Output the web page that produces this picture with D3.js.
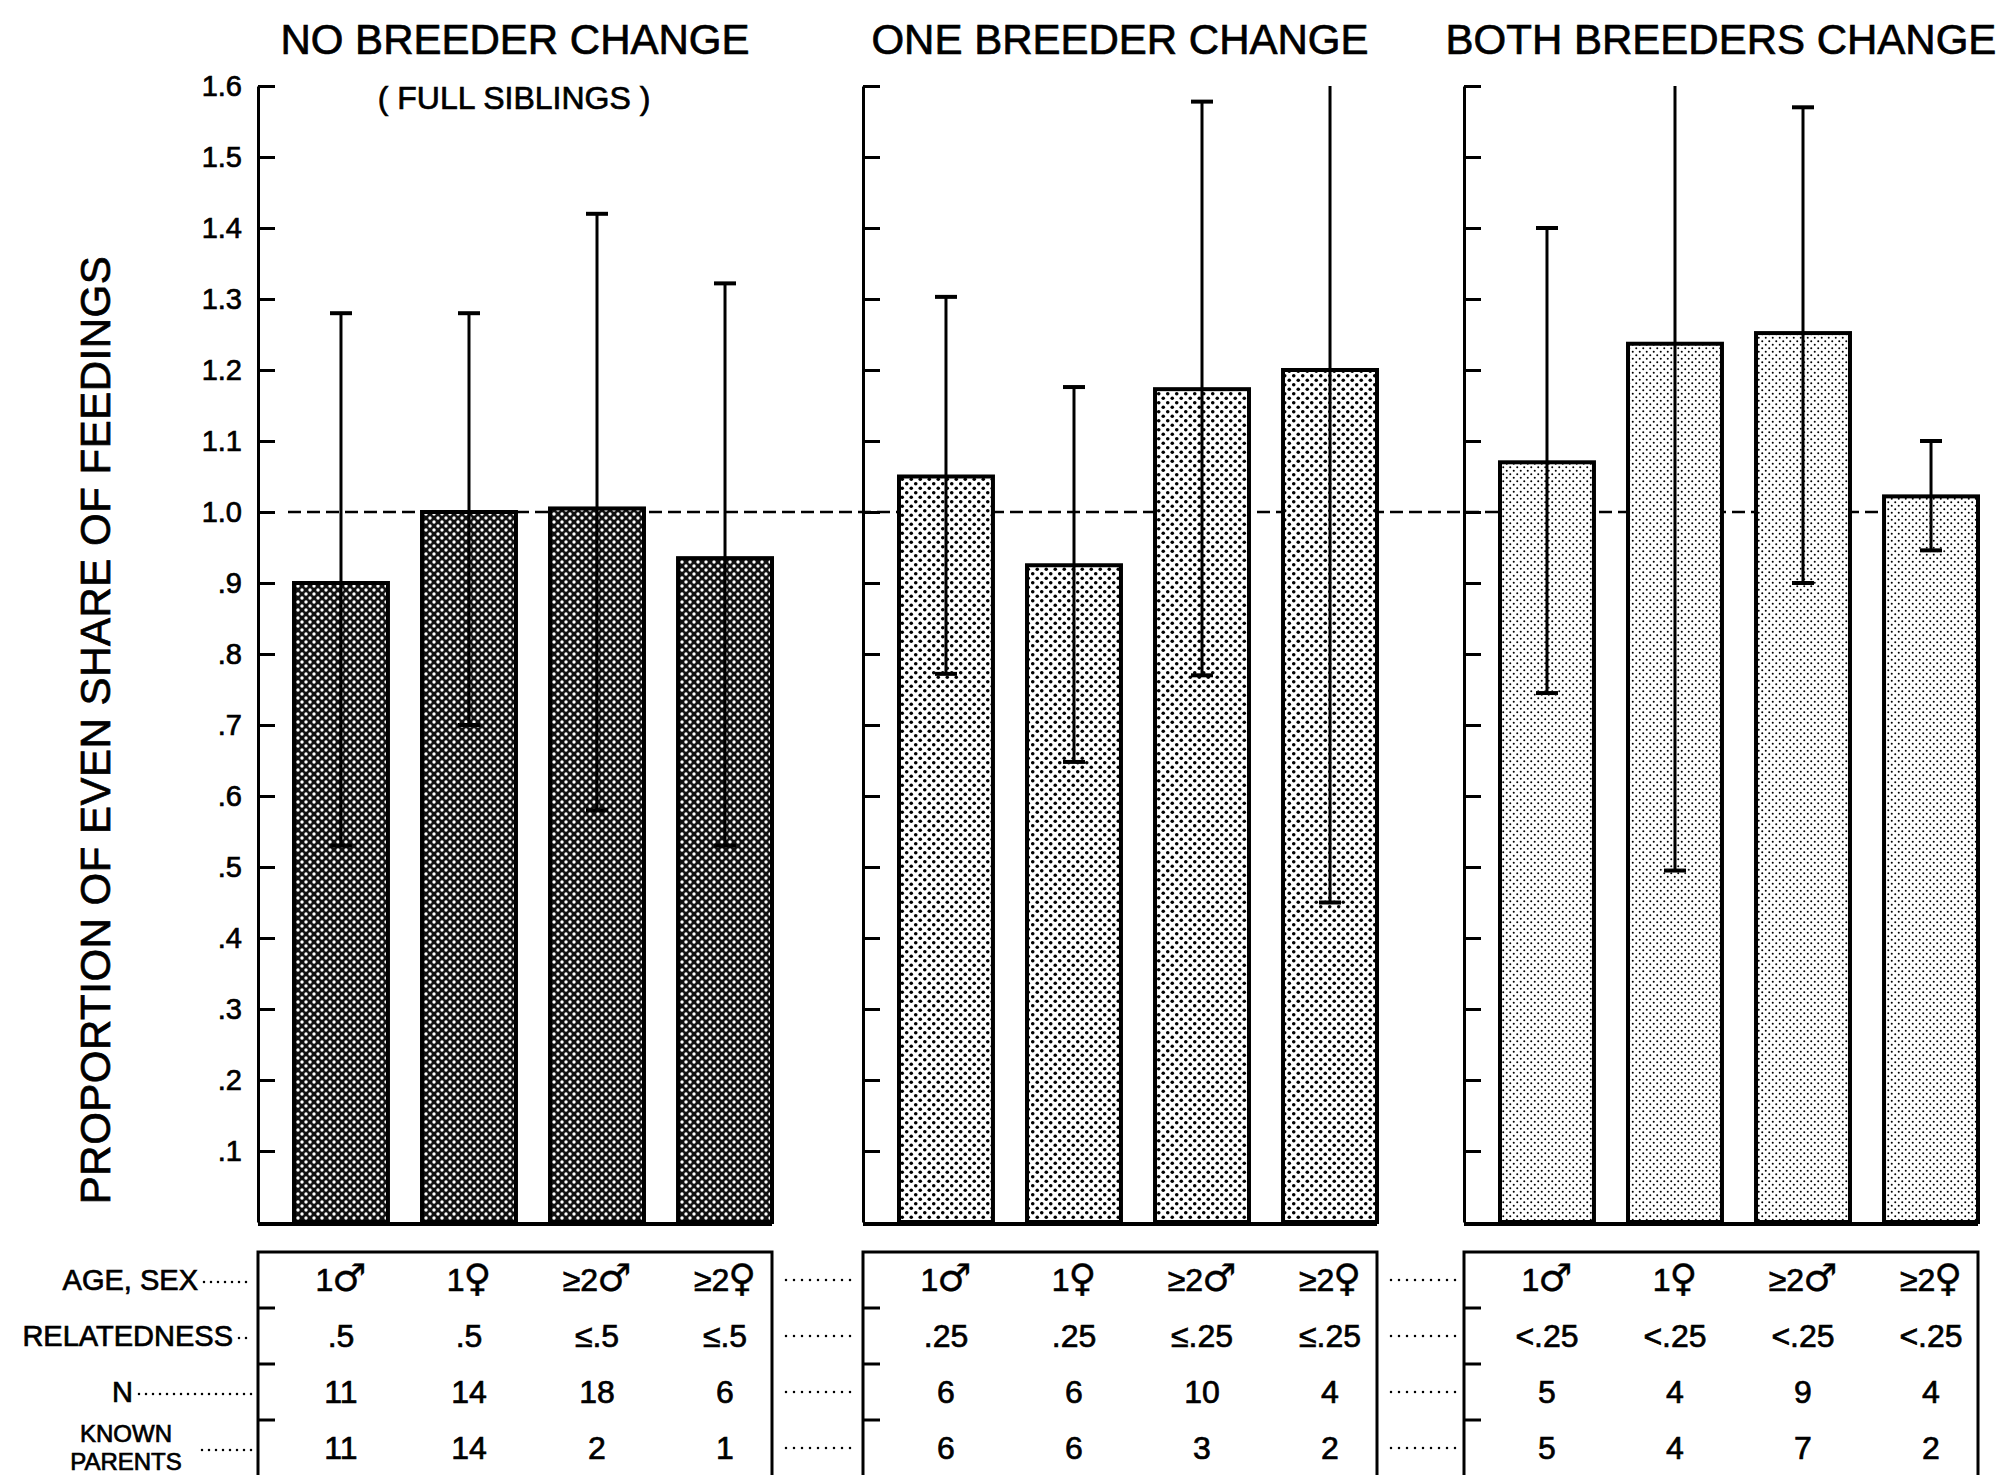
<!DOCTYPE html>
<html>
<head>
<meta charset="utf-8">
<script src="https://cdn.jsdelivr.net/npm/d3@7"></script>
<style>
  body { margin: 0; background: #fff; }
  text { font-family: "Liberation Sans", Arial, sans-serif; fill: #000; stroke: #000; stroke-width: 0.7px; }
  tspan.sym { font-family: "DejaVu Sans", sans-serif; stroke-width: 0.4px; }
</style>
</head>
<body>
<svg id="chart"></svg>
<script>
// DATA
const panelTitles = ["NO BREEDER CHANGE", "ONE BREEDER CHANGE", "BOTH BREEDERS CHANGE"];
const ageSex = ["1\u2642", "1\u2640", "\u22652\u2642", "\u22652\u2640"];
const yTicks = [0.1, 0.2, 0.3, 0.4, 0.5, 0.6, 0.7, 0.8, 0.9, 1.0, 1.1, 1.2, 1.3, 1.4, 1.5, 1.6];
const yTickLabels = [".1", ".2", ".3", ".4", ".5", ".6", ".7", ".8", ".9", "1.0", "1.1", "1.2", "1.3", "1.4", "1.5", "1.6"];

// mean proportion of even share, per panel
const means = [
    [0.90, 1.00, 1.005, 0.935],
    [1.05, 0.925, 1.173, 1.20],
    [1.07, 1.237, 1.252, 1.022]
];
// error bar ends (upper values above 1.6 run off the top of the scale)
const upper = [
    [1.28, 1.28, 1.42, 1.322],
    [1.303, 1.176, 1.578, 1.65],
    [1.40, 1.65, 1.57, 1.10]
];
const lower = [
    [0.53, 0.70, 0.58, 0.53],
    [0.772, 0.648, 0.77, 0.45],
    [0.745, 0.495, 0.90, 0.946]
];

const rowLabels = ["AGE, SEX", "RELATEDNESS", "N", "KNOWN PARENTS"];
const relatedness = [
    [".5", ".5", "\u2264.5", "\u2264.5"],
    [".25", ".25", "\u2264.25", "\u2264.25"],
    ["<.25", "<.25", "<.25", "<.25"]
];
const nValues = [
    [11, 14, 18, 6],
    [6, 6, 10, 4],
    [5, 4, 9, 4]
];
const knownParents = [
    [11, 14, 2, 1],
    [6, 6, 3, 2],
    [5, 4, 7, 2]
];

//svg setup
const width = 2001;
const height = 1475;
const svg = d3.select('#chart').attr('width', width).attr('height', height);

//fill patterns, dark to light
const defs = svg.append('defs');
function dotPattern(id, size, r, bg, dot) {
    const p = defs.append('pattern').attr('id', id)
        .attr('patternUnits', 'userSpaceOnUse')
        .attr('width', size).attr('height', size);
    p.append('rect').attr('width', size).attr('height', size).attr('fill', bg);
    [[size / 4, size / 4], [size * 3 / 4, size * 3 / 4]].forEach(c => {
        p.append('circle').attr('cx', c[0]).attr('cy', c[1]).attr('r', r).attr('fill', dot);
    });
}
dotPattern('pat0', 8, 1.7, '#111', '#fff');
dotPattern('pat1', 9, 1.8, '#fff', '#000');
dotPattern('pat2', 7, 1.0, '#fff', '#000');

//scales
const panelX = [258, 863, 1464];
const y = d3.scaleLinear().domain([0, 1.6]).range([1222, 86]);

//y axis title
svg.append('text')
    .attr('transform', `translate(110, 730) rotate(-90)`)
    .attr('text-anchor', 'middle')
    .attr('font-size', 42)
    .attr('letter-spacing', 0.5)
    .attr('stroke-width', 0.4)
    .text('PROPORTION OF EVEN SHARE OF FEEDINGS');

//tick labels only on the first panel
svg.append('g').selectAll('text')
    .data(yTicks)
    .enter()
    .append('text')
    .attr('x', 242)
    .attr('y', d => y(d) + 10)
    .attr('text-anchor', 'end')
    .attr('font-size', 29)
    .text((d, i) => yTickLabels[i]);

//dashed reference line at 1.0, behind the bars
svg.append('line')
    .attr('x1', 288).attr('x2', 1979)
    .attr('y1', y(1)).attr('y2', y(1))
    .attr('stroke', '#000').attr('stroke-width', 2.5)
    .attr('stroke-dasharray', '13,6');

// row layout of the table under the chart
const rowScale = d3.scaleBand().domain(d3.range(4)).range([1252, 1476]);
const rowMid = i => rowScale(i) + rowScale.bandwidth() / 2;

//write a cell, with the sex sign set larger
function cellText(sel, d) {
    const s = String(d);
    const last = s.slice(-1);
    if (last === '\u2642' || last === '\u2640') {
        sel.append('tspan').text(s.slice(0, -1));
        sel.append('tspan').attr('class', 'sym')
            .attr('font-size', 38).attr('dx', -1).text(last);
    } else {
        sel.text(s);
    }
}

panelX.forEach((x0, p) => {
    const x = d3.scaleBand().domain(ageSex)
        .range([x0 + 36, x0 + 514])
        .paddingInner(0.266).paddingOuter(0);
    const right = x0 + 514;
    const g = svg.append('g');

    //title
    g.append('text')
        .attr('x', (x0 + right) / 2)
        .attr('y', 54)
        .attr('text-anchor', 'middle')
        .attr('font-size', 42)
        .attr('stroke-width', 1)
        .text(panelTitles[p]);

    //axis with inward ticks
    const axis = d3.axisRight(y).tickValues(yTicks).tickSize(17).tickSizeOuter(0).tickFormat('');
    g.append('g')
        .attr('transform', `translate(${x0},0)`)
        .call(axis)
        .call(a => a.selectAll('line, path').attr('stroke', '#000').attr('stroke-width', 3));

    //bars
    g.selectAll('rect.bar')
        .data(means[p])
        .enter()
        .append('rect')
        .attr('class', 'bar')
        .attr('x', (d, i) => x(ageSex[i]))
        .attr('y', d => y(d))
        .attr('width', x.bandwidth())
        .attr('height', d => y(0) - y(d))
        .attr('fill', `url(#pat${p})`)
        .attr('stroke', '#000')
        .attr('stroke-width', 4);

    //baseline
    g.append('line')
        .attr('x1', x0).attr('x2', right)
        .attr('y1', y(0) + 2).attr('y2', y(0) + 2)
        .attr('stroke', '#000').attr('stroke-width', 4);

    //error bars
    means[p].forEach((m, i) => {
        const cx = x(ageSex[i]) + x.bandwidth() / 2;
        const top = Math.min(upper[p][i], 1.6);
        g.append('line')
            .attr('x1', cx).attr('x2', cx)
            .attr('y1', y(lower[p][i])).attr('y2', y(top))
            .attr('stroke', '#000').attr('stroke-width', 3);
        const caps = [lower[p][i]];
        if (upper[p][i] <= 1.6) caps.push(upper[p][i]);
        caps.forEach(v => {
            g.append('line')
                .attr('x1', cx - 11).attr('x2', cx + 11)
                .attr('y1', y(v)).attr('y2', y(v))
                .attr('stroke', '#000').attr('stroke-width', 4);
        });
    });

    //table box
    g.append('path')
        .attr('d', `M${x0},1476 V1252 H${right} V1476`)
        .attr('fill', 'none').attr('stroke', '#000').attr('stroke-width', 3);
    [1, 2, 3].forEach(i => {
        g.append('line')
            .attr('x1', x0).attr('x2', x0 + 17)
            .attr('y1', rowScale(i)).attr('y2', rowScale(i))
            .attr('stroke', '#000').attr('stroke-width', 3);
    });

    const rows = [ageSex, relatedness[p], nValues[p], knownParents[p]];
    rows.forEach((vals, r) => {
        g.selectAll(null)
            .data(vals)
            .enter()
            .append('text')
            .attr('x', (d, i) => x(ageSex[i]) + x.bandwidth() / 2)
            .attr('y', rowMid(r) + 11)
            .attr('text-anchor', 'middle')
            .attr('font-size', 32)
            .each(function (d) { cellText(d3.select(this), d); });
        //leader dots to next panel
        if (p < 2) {
            g.append('line')
                .attr('x1', right + 14).attr('x2', panelX[p + 1] - 6)
                .attr('y1', rowMid(r)).attr('y2', rowMid(r))
                .attr('stroke', '#000').attr('stroke-width', 2.5)
                .attr('stroke-linecap', 'round')
                .attr('stroke-dasharray', '0,8');
        }
    });
});

//row labels with dotted leaders
const labelG = svg.append('g');
const labelEnds = [198, 233, 133, 196];
rowLabels.forEach((lab, r) => {
    if (r === 3) {
        labelG.append('text').attr('x', 126).attr('y', 1442)
            .attr('text-anchor', 'middle').attr('font-size', 24).text('KNOWN');
        labelG.append('text').attr('x', 126).attr('y', 1470)
            .attr('text-anchor', 'middle').attr('font-size', 24).text('PARENTS');
    } else {
        labelG.append('text').attr('x', labelEnds[r]).attr('y', rowMid(r) + 10)
            .attr('text-anchor', 'end').attr('font-size', 29).text(lab);
    }
    labelG.append('line')
        .attr('x1', labelEnds[r] + 6).attr('x2', 252)
        .attr('y1', rowMid(r) + 2).attr('y2', rowMid(r) + 2)
        .attr('stroke', '#000').attr('stroke-width', 2.5)
        .attr('stroke-linecap', 'round')
        .attr('stroke-dasharray', '0,7');
});

//subtitle for first panel
svg.append('text')
    .attr('x', 514).attr('y', 109)
    .attr('text-anchor', 'middle')
    .attr('font-size', 32)
    .text('( FULL SIBLINGS )');
</script>
</body>
</html>
